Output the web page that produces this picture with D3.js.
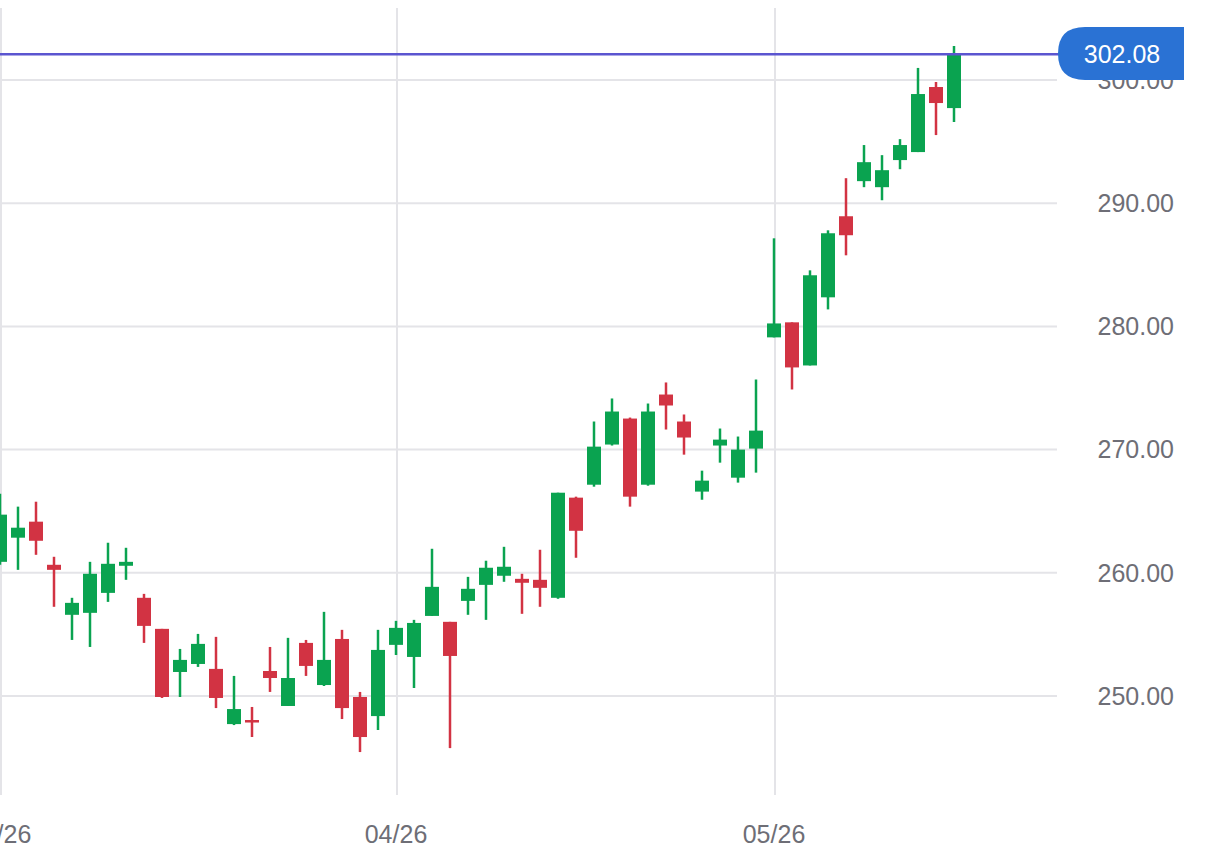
<!DOCTYPE html><html><head><meta charset="utf-8"><script src="https://cdn.jsdelivr.net/npm/d3@7"></script>
<style>body{margin:0;background:#fff}svg{display:block}</style></head><body><svg id="c" width="1206" height="854"></svg><script>
const opens=[260.89,262.85,264.15,260.65,256.59,256.75,258.37,260.57,257.97,255.45,251.95,252.60,252.20,247.72,248.05,252.03,249.19,254.31,250.89,254.63,249.92,248.37,254.15,253.17,256.50,256.02,257.72,259.02,259.76,259.51,259.43,257.97,266.10,267.15,270.41,272.52,267.15,274.47,272.28,266.59,270.33,267.72,270.08,279.11,280.33,276.83,282.36,288.94,291.79,291.30,293.50,294.15,299.43,297.72];
const closes=[264.72,263.66,262.60,260.24,257.56,259.92,260.73,260.89,255.69,249.92,252.93,254.23,249.84,248.94,247.89,251.46,251.46,252.44,252.93,249.02,246.67,253.74,255.53,255.93,258.86,253.25,258.70,260.41,260.49,259.19,258.78,266.50,263.41,270.24,273.09,266.18,273.09,273.58,270.98,267.48,270.81,270.00,271.54,280.24,276.67,284.15,287.56,287.40,293.33,292.68,294.72,298.86,298.13,302.08];
const highs=[266.42,265.37,265.77,261.30,257.97,260.89,262.44,262.03,258.29,255.45,253.82,255.04,254.80,251.63,249.11,253.98,254.72,254.55,256.83,255.37,250.33,255.37,256.10,256.18,261.95,256.02,259.67,260.98,262.11,259.92,261.87,266.50,266.18,272.28,274.15,272.60,273.74,275.45,272.85,268.29,271.71,271.06,275.69,287.15,280.33,284.55,287.80,292.03,294.72,293.90,295.20,300.98,299.84,302.76];
const lows=[260.65,260.24,261.46,257.24,254.55,253.98,257.64,259.43,254.31,249.84,249.92,252.36,249.02,247.64,246.67,250.33,249.19,251.63,250.81,248.13,245.45,247.24,253.33,250.65,256.50,245.77,256.59,256.18,259.27,256.67,257.24,257.89,261.22,266.99,270.33,265.37,267.07,271.63,269.59,265.93,268.94,267.32,268.13,279.11,274.88,276.83,281.38,285.77,291.30,290.24,292.76,294.15,295.53,296.59];
const yTicks=[250,260,270,280,290,300];
const xTickIdx=[0,22,43];
const xTickLabels=["03/26","04/26","05/26"];
const lastPrice=302.08;

const FONT="'Liberation Sans', Arial, sans-serif";
const svg=d3.select("#c");
const x=d3.scaleLinear().domain([0,53]).range([0,954]);
const y=d3.scaleLinear().domain([250,300]).range([696,80]);
const plotR=1057;
svg.append("g").selectAll("line").data(yTicks).join("line")
 .attr("x1",0).attr("x2",plotR).attr("y1",d=>y(d)).attr("y2",d=>y(d))
 .attr("stroke","#e4e4e8").attr("stroke-width",2);
svg.append("g").selectAll("line").data(xTickIdx).join("line")
 .attr("x1",d=>x(d)+1).attr("x2",d=>x(d)+1).attr("y1",8).attr("y2",795)
 .attr("stroke","#e4e4e8").attr("stroke-width",2);
svg.append("g").selectAll("text").data(yTicks).join("text")
 .attr("x",1174).attr("y",d=>y(d)).attr("dy","0.35em").attr("text-anchor","end")
 .attr("font-family",FONT).attr("font-size",25).attr("fill","#6e6e76")
 .text(d=>d.toFixed(2));
svg.append("g").selectAll("text").data(xTickIdx).join("text")
 .attr("x",d=>x(d)).attr("y",843).attr("text-anchor","middle")
 .attr("font-family",FONT).attr("font-size",25).attr("fill","#6e6e76")
 .text((d,i)=>xTickLabels[i]);
const idx=d3.range(opens.length);
const col=i=>closes[i]>=opens[i]?"#0aa350":"#d23343";
const g=svg.append("g");
g.selectAll("line").data(idx).join("line")
 .attr("x1",i=>x(i)).attr("x2",i=>x(i)).attr("y1",i=>y(highs[i])).attr("y2",i=>y(lows[i]))
 .attr("stroke",col).attr("stroke-width",2.5);
g.selectAll("rect").data(idx).join("rect")
 .attr("x",i=>x(i)-7).attr("width",14)
 .attr("y",i=>y(Math.max(opens[i],closes[i])))
 .attr("height",i=>Math.max(2.5,Math.abs(y(opens[i])-y(closes[i]))))
 .attr("fill",col);
svg.append("line").attr("x1",0).attr("x2",1060).attr("y1",y(lastPrice)).attr("y2",y(lastPrice))
 .attr("stroke","#5b55d0").attr("stroke-width",2.5);
svg.append("path").attr("d","M1184,27 H1085 Q1058,27 1058,53.5 Q1058,80 1085,80 H1184 Z").attr("fill","#2a72d4");
svg.append("text").attr("x",1122).attr("y",y(lastPrice)).attr("dy","0.35em").attr("text-anchor","middle")
 .attr("font-family",FONT).attr("font-size",25).attr("fill","#fff").text(lastPrice.toFixed(2));
</script></body></html>
